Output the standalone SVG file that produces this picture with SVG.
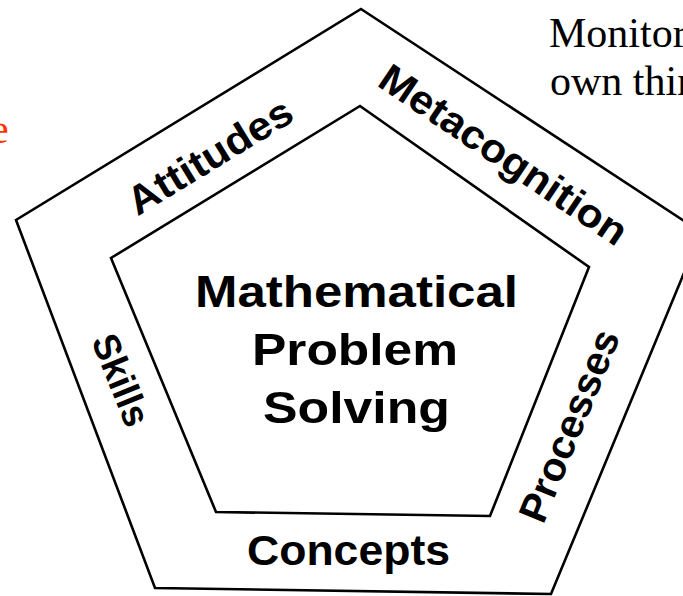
<svg xmlns="http://www.w3.org/2000/svg" width="683" height="596" viewBox="0 0 683 596">
<style>
.edge{fill:none;stroke:#000;stroke-width:2.6;stroke-linejoin:miter}
.lbl{font-family:"Liberation Sans",Arial,sans-serif;font-weight:bold;fill:#000;text-anchor:middle}
.note{font-family:"Liberation Serif","Times New Roman",serif;font-size:42px;fill:#000}
</style>
<rect width="683" height="596" fill="#fff"/>
<g id="connectors">
<polygon id="outer" class="edge" points="361,9 701,232 551,594 155,588 16,220"/>
<polygon id="inner" class="edge" points="360,106 589,267 490,516 216,512 111,258"/>
</g>
<g id="center">
<text class="lbl" font-size="45" x="356.5" y="307" textLength="323" lengthAdjust="spacingAndGlyphs">Mathematical</text>
<text class="lbl" font-size="45" x="355" y="365" textLength="206" lengthAdjust="spacingAndGlyphs">Problem</text>
<text class="lbl" font-size="45" x="356.5" y="423" textLength="187" lengthAdjust="spacingAndGlyphs">Solving</text>
</g>
<g id="attitudes">
<text class="lbl" font-size="40" transform="translate(217,168) rotate(-31.4)" textLength="186" lengthAdjust="spacingAndGlyphs">Attitudes</text>
</g>
<g id="metacognition">
<text class="lbl" font-size="40" transform="translate(496,166) rotate(34)" textLength="290" lengthAdjust="spacingAndGlyphs">Metacognition</text>
</g>
<g id="processes">
<text class="lbl" font-size="40" transform="translate(582,431) rotate(-67.7)" textLength="204" lengthAdjust="spacingAndGlyphs">Processes</text>
</g>
<g id="concepts">
<text class="lbl" font-size="42" x="348.5" y="565" textLength="203" lengthAdjust="spacingAndGlyphs">Concepts</text>
</g>
<g id="skills">
<text class="lbl" font-size="38" transform="translate(109,385) rotate(68)" textLength="96" lengthAdjust="spacingAndGlyphs">Skills</text>
</g>
<g id="notes">
<text class="note" x="549" y="47">Monitor</text>
<text class="note" x="550" y="95">own thin</text>
<text class="note" x="-10" y="143" fill="#FF3300" style="fill:#FF3300">e</text>
</g>
</svg>
